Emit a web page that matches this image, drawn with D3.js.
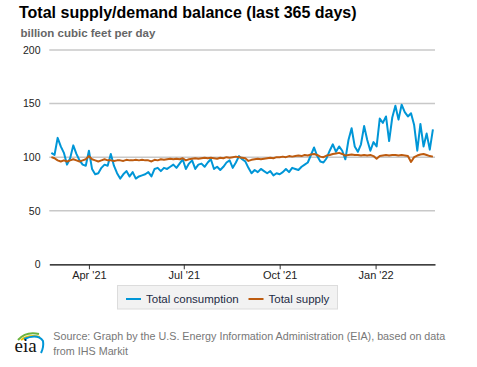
<!DOCTYPE html>
<html><head><meta charset="utf-8">
<script src="https://cdn.jsdelivr.net/npm/d3@7"></script>
<style>
html,body{margin:0;padding:0;background:#fff;}
svg{display:block;font-family:"Liberation Sans",Arial,sans-serif;}
</style></head>
<body><svg id="chart" width="477" height="367"></svg>
<script>
// ---- data (one reading every 3 days) ----
const startDate = "2021-02-24";
const stepDays = 3;
const consumption = [104,102,118,110,104,93,99,111,103,97,93,92,106,89,84,85,90,93,92,103,92,85,80,84,87,82,86,80,82,83,84,
  86,82,89,90,87,90,89,91,93,90,94,98,89,94,97,89,93,94,91,95,98,89,91,88,91,95,97,90,95,101,98,96,90,85,88,86,89,87,85,87,83,85,84,86,89,86,90,89,88,
  91,93,95,102,109,101,96,95,99,106,112,105,110,106,98,116,127,110,105,112,129,116,106,114,110,136,132,138,115,137,148,135,149,142,138,141,130,106,131,110,122,107,126];
const supply = [100,99,97,96,97,96,97,98,97,96,97,98,101,98,97,96,97,98,97,97,96.5,97,97,96.5,97.5,97,97,97.5,97,97.5,97,
  97,96,97.5,97,98,97.5,98,98.5,98,98.5,98,99,97,98,98.5,99,98.5,99,99.5,99,99.5,99,98.5,99.5,99,100,99.5,100,100.5,100,99.5,99,96.5,97.5,98,98.5,98,98.5,99,99.5,99,100,100,100.5,100,101,100.5,101,101.5,
  101,102,101.5,102.5,103,102,100.5,100,101.5,102,103,103.5,104,103,101.5,102,102.5,102,102,101.5,102,101.5,102,101,98.5,101,101.5,102,101.5,102,102,101.5,102,101.5,101,95.5,100,101.5,102.5,103,102,101,100.5];
const seriesNames = ["Total consumption","Total supply"];
const seriesColors = ["#0096d7","#bd5b0f"];
const yTicks = [0,50,100,150,200];
const xTickDates = ["2021-04-01","2021-07-01","2021-10-01","2022-01-01"];
const xTickLabels = ["Apr '21","Jul '21","Oct '21","Jan '22"];
const xDomain = ["2021-02-22","2022-02-27"];

const parse = d3.utcParse("%Y-%m-%d");
const t0 = parse(startDate);
const dates = consumption.map((_, i) => d3.utcDay.offset(t0, i * stepDays));

const svg = d3.select("#chart");
const x = d3.scaleUtc().domain(xDomain.map(parse)).range([49.3, 435]);
const y = d3.scaleLinear().domain([0, 200]).range([264.3, 50]);

// title
svg.append("text").attr("x", 19).attr("y", 17.5).attr("font-size", 16).attr("font-weight", "bold")
  .attr("fill", "#000").text("Total supply/demand balance (last 365 days)");
svg.append("text").attr("x", 20.5).attr("y", 36.8).attr("font-size", 11.5).attr("font-weight", "bold")
  .attr("fill", "#666").text("billion cubic feet per day");

// grid
svg.append("g").selectAll("line").data(yTicks.filter(d => d > 0)).join("line")
  .attr("x1", 49.3).attr("x2", 435).attr("y1", d => y(d)).attr("y2", d => y(d))
  .attr("stroke", "#c8c8c8").attr("stroke-width", 1.5);

// y axis labels
const yAxis = d3.axisLeft(y).tickValues(yTicks).tickSize(0).tickPadding(0);
const gy = svg.append("g").attr("transform", "translate(40.5,0)").call(yAxis);
gy.select(".domain").remove();
gy.selectAll("text").attr("font-size", 10.5).attr("fill", "#222").attr("font-family", "Liberation Sans,Arial,sans-serif");

// x axis
const xAxis = d3.axisBottom(x).tickValues(xTickDates.map(parse)).tickFormat((d, i) => xTickLabels[i]).tickSize(5).tickSizeOuter(0).tickPadding(2);
const gx = svg.append("g").attr("transform", `translate(0,${y(0)})`).call(xAxis);
gx.select(".domain").attr("stroke", "#000").attr("stroke-width", 1.2);
gx.selectAll(".tick line").attr("stroke", "#333");
gx.selectAll("text").attr("font-size", 11).attr("fill", "#222").attr("font-family", "Liberation Sans,Arial,sans-serif");

// lines
const line = d3.line().x((d, i) => x(dates[i])).y(d => y(d));
[consumption, supply].forEach((s, k) => {
  svg.append("path").datum(s).attr("d", line).attr("fill", "none")
    .attr("stroke", seriesColors[k]).attr("stroke-width", 2).attr("stroke-linejoin", "round");
});

// legend
const lg = svg.append("g");
lg.append("rect").attr("x", 117.5).attr("y", 285.5).attr("width", 220).attr("height", 23.5)
  .attr("fill", "#f2f2f2").attr("stroke", "#dcdcdc");
const legX = [126, 248.5];
seriesNames.forEach((n, k) => {
  lg.append("line").attr("x1", legX[k]).attr("x2", legX[k] + 15).attr("y1", 299).attr("y2", 299)
    .attr("stroke", seriesColors[k]).attr("stroke-width", 2);
  lg.append("text").attr("x", legX[k] + 20).attr("y", 303).attr("font-size", 11.5).attr("fill", "#1d2b45").text(n);
});

// source
const src = svg.append("text").attr("font-size", 10.75).attr("fill", "#777");
src.append("tspan").attr("x", 53.3).attr("y", 339.5).text("Source: Graph by the U.S. Energy Information Administration (EIA), based on data");
src.append("tspan").attr("x", 53.3).attr("y", 354.5).text("from IHS Markit");

// eia logo
const logo = svg.append("g");
logo.append("path").attr("d", "M18,340 Q26,331 39,334").attr("fill", "none").attr("stroke", "#6cb33f").attr("stroke-width", 2);
logo.append("path").attr("d", "M21,340 Q29,334 40,337").attr("fill", "none").attr("stroke", "#f5c400").attr("stroke-width", 2);
logo.append("path").attr("d", "M24,339 Q38,333 43,341 Q44,347 41,353").attr("fill", "none").attr("stroke", "#0096d7").attr("stroke-width", 2);
logo.append("text").attr("x", 14.5).attr("y", 352).attr("font-family", "Liberation Serif,DejaVu Serif,serif")
  .attr("font-size", 19).attr("fill", "#111").text("eia");
</script></body></html>
